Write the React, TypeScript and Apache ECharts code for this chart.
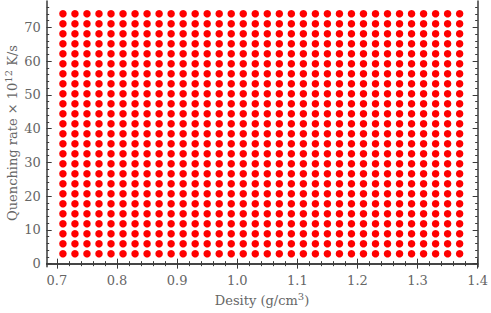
import React, { useEffect, useRef } from "react";
import * as echarts from "echarts";

const densityValues = [
  0.71, 0.73, 0.75, 0.77, 0.79, 0.81, 0.83, 0.85, 0.87, 0.89, 0.91, 0.93,
  0.95, 0.97, 0.99, 1.01, 1.03, 1.05, 1.07, 1.09, 1.11, 1.13, 1.15, 1.17,
  1.19, 1.21, 1.23, 1.25, 1.27, 1.29, 1.31, 1.33, 1.35, 1.37,
];
const rateValues = [
  2.96, 5.92, 8.88, 11.84, 14.8, 17.76, 20.72, 23.68, 26.64, 29.6, 32.56,
  35.52, 38.48, 41.44, 44.4, 47.36, 50.32, 53.28, 56.24, 59.2, 62.16, 65.12,
  68.08, 71.04, 74.0,
];
const xTickLabels = [0.7, 0.8, 0.9, 1.0, 1.1, 1.2, 1.3, 1.4];
const yTickLabels = [0, 10, 20, 30, 40, 50, 60, 70];

const X_MIN = 0.683;
const X_MAX = 1.4;
const Y_MIN = -0.9;
const Y_MAX = 77.8;

const xMinor: number[] = [];
for (let i = 0; i <= 35; i++) xMinor.push(Math.round((0.7 + i * 0.02) * 1000) / 1000);
const yMinor: number[] = [];
for (let i = 0; i <= 38; i++) yMinor.push(i * 2);

const FRAME = "#3a3a3a";
const LABEL = "#666666";
const FONT = "DejaVu Serif";

function xAxisDef(position: "bottom" | "top", major: boolean, showLine: boolean, showLabels: boolean) {
  return {
    type: "value",
    position,
    min: X_MIN,
    max: X_MAX,
    axisLine: { show: showLine, lineStyle: { color: FRAME, width: 1.5 } },
    axisTick: {
      show: true,
      inside: true,
      length: major ? 5 : 2.5,
      customValues: major ? xTickLabels : xMinor,
      lineStyle: { color: FRAME, width: 1 },
    },
    axisLabel: {
      show: showLabels,
      customValues: xTickLabels,
      formatter: (v: number) => v.toFixed(1),
      color: LABEL,
      fontFamily: FONT,
      fontSize: 13,
      margin: 7,
    },
    splitLine: { show: false },
  };
}

function yAxisDef(position: "left" | "right", major: boolean, showLine: boolean, showLabels: boolean) {
  return {
    type: "value",
    position,
    min: Y_MIN,
    max: Y_MAX,
    axisLine: { show: showLine, lineStyle: { color: FRAME, width: 1.5 } },
    axisTick: {
      show: true,
      inside: true,
      length: major ? 5 : 2.5,
      customValues: major ? yTickLabels : yMinor,
      lineStyle: { color: FRAME, width: 1 },
    },
    axisLabel: {
      show: showLabels,
      customValues: yTickLabels,
      formatter: (v: number) => String(v),
      color: LABEL,
      fontFamily: FONT,
      fontSize: 13,
      margin: 6,
    },
    splitLine: { show: false },
  };
}

const richStyles = {
  a: { fontSize: 13, fontFamily: FONT, fill: LABEL, lineHeight: 17 },
  s: { fontSize: 10, fontFamily: FONT, fill: LABEL, lineHeight: 17, verticalAlign: "top" },
};

export default function App() {
  const ref = useRef<HTMLDivElement>(null);
  useEffect(() => {
    if (!ref.current) return;
    const chart = echarts.init(ref.current, null, { renderer: "svg" });
    const points: number[][] = [];
    for (const x of densityValues) for (const y of rateValues) points.push([x, y]);
    chart.setOption({
      animation: false,
      backgroundColor: "#ffffff",
      grid: { left: 46.7, right: 12.3, top: 1, bottom: 46.3 },
      xAxis: [
        xAxisDef("bottom", true, true, true),
        xAxisDef("bottom", false, false, false),
        xAxisDef("top", true, true, false),
        xAxisDef("top", false, false, false),
      ],
      yAxis: [
        yAxisDef("left", true, true, true),
        yAxisDef("left", false, false, false),
        yAxisDef("right", true, true, false),
        yAxisDef("right", false, false, false),
      ],
      series: [
        {
          type: "scatter",
          xAxisIndex: 0,
          yAxisIndex: 0,
          data: points,
          symbol: "circle",
          symbolSize: 7.5,
          itemStyle: { color: "#ff0000", opacity: 1 },
        },
      ],
      graphic: [
        {
          type: "text",
          x: 262,
          y: 300,
          style: {
            text: "{a|Desity (g/cm}{s|3}{a|)}",
            rich: richStyles,
            textAlign: "center",
            textVerticalAlign: "middle",
          },
        },
        {
          type: "text",
          x: 12,
          y: 133,
          rotation: Math.PI / 2,
          style: {
            text: "{a|Quenching rate × 10}{s|12}{a| K/s}",
            rich: richStyles,
            textAlign: "center",
            textVerticalAlign: "middle",
          },
        },
      ],
    });
    return () => chart.dispose();
  }, []);
  return (
    <div
      ref={ref}
      style={{ position: "fixed", left: 0, top: 0, width: 491, height: 313 }}
    />
  );
}
